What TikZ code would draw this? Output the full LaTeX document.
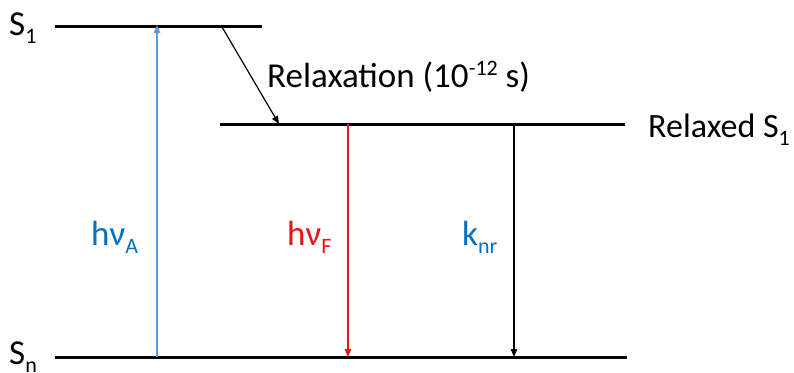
\documentclass[tikz,border=0pt]{standalone}
\usepackage{fontspec}
\setmainfont{Carlito}
\usetikzlibrary{arrows.meta}
\definecolor{absblue}{RGB}{91,155,213}
\definecolor{txtblue}{RGB}{0,112,192}
\definecolor{fred}{RGB}{230,20,20}
\newcommand{\lsub}[1]{\raisebox{-8pt}{\fontsize{22}{22}\selectfont #1}}
\newcommand{\lsup}[1]{\raisebox{12pt}{\fontsize{22}{22}\selectfont #1}}
\tikzset{
  level/.style={line width=3pt},
  trans/.style={line width=1.2pt,-{Triangle[length=8pt,width=6.5pt]}},
  lbl/.style={inner sep=0pt,font=\fontsize{35}{42}\selectfont},
}
\begin{document}
\begin{tikzpicture}[x=1pt,y=-1pt]
\useasboundingbox (0,0) rectangle (794,372);
% levels
\coordinate (s1l) at (55,26);
\coordinate (s1r) at (262,26);
\coordinate (rl) at (220,124);
\coordinate (rr) at (625,124);
\coordinate (snl) at (55,357);
\coordinate (snr) at (627,357);
\draw[level] (s1l) -- (s1r);
\draw[level] (rl) -- (rr);
\draw[level] (snl) -- (snr);
% labels
\node[lbl,anchor=base west] (S1) at (9,35) {S\lsub{1}};
\node[lbl,anchor=base west] (Sn) at (9,364) {S\lsub{n}};
\node[lbl,anchor=base east,font=\fontsize{34}{40}\selectfont] (RS1) at (790,137) {Relaxed S\lsub{1}};
\node[lbl,anchor=base west] (relax) at (267,87) {Relaxation (10\lsup{-12} s)};
\node[lbl,anchor=base west,text=txtblue] (hA) at (91,245) {hν\lsub{A}};
\node[lbl,anchor=base west,text=fred] (hF) at (287,245) {hν\lsub{F}};
\node[lbl,anchor=base west,text=txtblue] (knr) at (462,245) {k\lsub{nr}};
% transitions
\coordinate (a0) at (157,357);
\coordinate (a1) at (157,25);
\draw[trans,absblue] (a0) -- (a1);
\coordinate (f0) at (348,124);
\coordinate (f1) at (348,357);
\draw[trans,fred] (f0) -- (f1);
\coordinate (k0) at (514,124);
\coordinate (k1) at (514,357);
\draw[trans,black] (k0) -- (k1);
\coordinate (r0) at (222,27);
\coordinate (r1) at (279,124);
\draw[trans,black] (r0) -- (r1);
\end{tikzpicture}
\end{document}
